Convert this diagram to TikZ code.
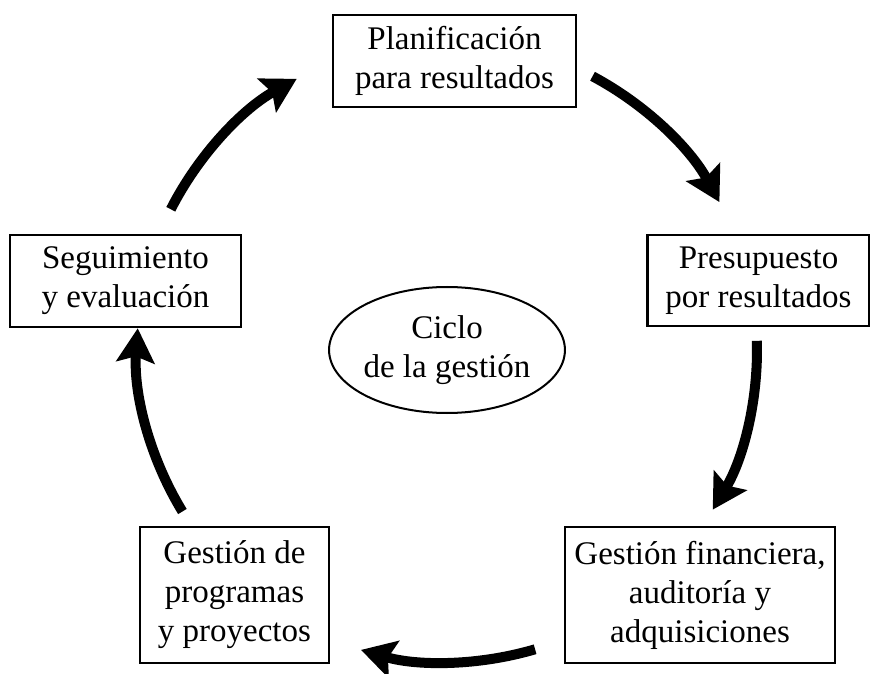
\documentclass[tikz,border=0pt]{standalone}
\usepackage{fontspec}
\setmainfont{Liberation Serif}
\usetikzlibrary{arrows.meta,shapes.geometric,calc}
\begin{document}
\begin{tikzpicture}[x=1pt,y=1pt,
  box/.style={draw=black,line width=2.5pt,align=center,inner sep=0pt,
    font=\fontsize{33}{39}\selectfont},
  cyc/.style={line width=10pt,-{Stealth[length=34pt,width=38pt,inset=6pt]}}]
\useasboundingbox (0,0) rectangle (870,673);
\coordinate (C) at (447,323);
\node[box,minimum width=243pt,minimum height=92pt] (plan) at (454.5,612) {Planificación\\para resultados};
\node[box,minimum width=231pt,minimum height=92pt] (seg) at (125.5,392) {Seguimiento\\y evaluación};
\node[box,minimum width=222pt,minimum height=91pt] (pres) at (758.5,392.5) {Presupuesto\\por resultados};
\node[box,minimum width=189pt,minimum height=136pt] (prog) at (234.5,78) {Gestión de\\programas\\y proyectos};
\node[box,minimum width=270pt,minimum height=136pt] (fin) at (700,78) {Gestión financiera,\\auditoría y\\adquisiciones};
\node[draw=black,line width=2pt,ellipse,minimum width=226pt,minimum height=126pt,inner sep=0pt,align=center,
  font=\fontsize{33}{39}\selectfont] (ciclo) at (C) {Ciclo\\de la gestión};
\coordinate (a1) at ($(C)+(153:310)$);
\coordinate (a2) at ($(C)+(62:310)$);
\coordinate (a3) at ($(C)+(1.7:310)$);
\coordinate (a4) at ($(C)+(-73.6:312)$);
\coordinate (a5) at ($(C)+(211.4:310)$);
\draw[cyc] (a1) arc[start angle=153,end angle=119,radius=310];
\draw[cyc] (a2) arc[start angle=62,end angle=28.5,radius=310];
\draw[cyc] (a3) arc[start angle=1.7,end angle=-31,radius=310];
\draw[cyc] (a4) arc[start angle=-73.6,end angle=-106,radius=312];
\draw[cyc] (a5) arc[start angle=211.4,end angle=176,radius=310];
\end{tikzpicture}
\end{document}
